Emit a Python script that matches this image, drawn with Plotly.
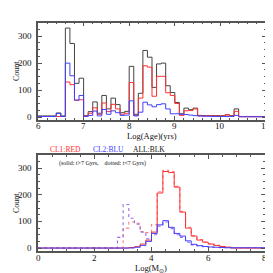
import plotly.graph_objects as go

# ---------------- data ----------------
age_edges_start = 6.0
age_bin = 0.1
age_all = [4, 4, 4, 4, 15, 4, 330, 273, 125, 144,
           5, 20, 56, 14, 80, 30, 70, 46, 16, 21,
           188, 10, 88, 247, 222, 110, 197, 200, 116, 91,
           54, 12, 33, 27, 33, 6, 5, 5, 5, 5,
           5, 8, 5, 30, 2, 2, 2, 2, 2, 2]
age_red = [2, 2, 2, 2, 2, 2, 130, 120, 62, 64,
           3, 14, 34, 10, 52, 20, 47, 30, 10, 14,
           128, 6, 70, 190, 185, 77, 151, 151, 90, 80,
           50, 6, 23, 24, 30, 4, 4, 4, 4, 4,
           4, 8, 4, 21, 1, 1, 1, 1, 1, 1]
age_blu = [2, 2, 2, 2, 13, 2, 200, 153, 63, 80,
           2, 6, 22, 4, 28, 10, 23, 16, 6, 7,
           60, 4, 18, 55, 45, 38, 46, 49, 30, 12,
           12, 10, 9, 7, 5, 4, 3, 3, 2, 2,
           2, 2, 2, 6, 1, 1, 1, 1, 1, 1]

mass_edges_start = 0.0
mass_bin = 0.2
mass_red_solid = [0]*16 + [2, 5, 15, 30, 60, 207, 288, 284, 229, 135,
                           75, 45, 30, 22, 15, 10, 6, 3] + [0]*6
mass_blu_solid = [0]*17 + [3, 10, 25, 55, 87, 103, 78, 55, 45,
                           27, 14, 9, 6, 4, 3, 2, 1] + [1]*6
mass_red_dot = [0]*15 + [75, 98, 93, 62, 58, 88, 212, 292, 288, 232,
                         138, 78, 47, 32, 23, 16, 10, 6, 3] + [0]*6
mass_blu_dot = [0]*14 + [40, 164, 112, 90, 60, 35, 50, 82, 98, 73,
                         50, 40, 22, 12, 8, 5, 3, 2, 1, 1] + [1]*6

age_ticks = [6, 7, 8, 9, 10, 11]
mass_ticks = [0, 2, 4, 6, 8]
count_ticks = [0, 100, 200, 300]


def steps(start, width, vals):
    xs = [start + width * i for i in range(len(vals) + 1)]
    ys = list(vals) + [vals[-1]]
    return xs, ys


fig = go.Figure()

def add(xa, ya, start, width, vals, color, dash="solid", w=1.0):
    xs, ys = steps(start, width, vals)
    fig.add_trace(go.Scatter(x=xs, y=ys, mode="lines", line_shape="hv",
                             line=dict(color=color, width=w, dash=dash),
                             xaxis=xa, yaxis=ya, showlegend=False,
                             hoverinfo="skip"))

add("x", "y", age_edges_start, age_bin, age_all, "#444444")
add("x", "y", age_edges_start, age_bin, age_red, "#ff3030")
add("x", "y", age_edges_start, age_bin, age_blu, "#4040ff")

add("x2", "y2", mass_edges_start, mass_bin, mass_red_dot, "#ff8080", "dot", 1.1)
add("x2", "y2", mass_edges_start, mass_bin, mass_blu_dot, "#9a6ae8", "dot", 1.1)
add("x2", "y2", mass_edges_start, mass_bin, mass_red_solid, "#ff3030")
add("x2", "y2", mass_edges_start, mass_bin, mass_blu_solid, "#4040ff")

font = "Liberation Serif"
tickfont = dict(family=font, size=9, color="#111")

ax_common = dict(showgrid=False, zeroline=False, ticks="inside", mirror="allticks",
                 showline=True, linecolor="#555", linewidth=1.5,
                 tickcolor="#555", ticklen=4, tickwidth=1, tickfont=tickfont,
                 showticklabels=False)

Y1B, Y1T = 111.7, 14.7
Y2B, Y2T = 242.7, 147
fig.update_layout(
    width=273, height=273,
    margin=dict(l=0, r=0, t=0, b=0),
    paper_bgcolor="white", plot_bgcolor="white",
    xaxis=dict(domain=[30/273, 258/273], range=[6, 11], tickvals=age_ticks, anchor="y",
               minor=dict(dtick=0.2, ticks="inside", ticklen=2, tickcolor="#555"),
               **ax_common),
    yaxis=dict(domain=[1-Y1B/273, 1-Y1T/273], range=[-10, 350], tickvals=count_ticks,
               anchor="x",
               minor=dict(dtick=25, ticks="inside", ticklen=2, tickcolor="#555"),
               **ax_common),
    xaxis2=dict(domain=[30/273, 257/273], range=[0, 8], tickvals=mass_ticks, anchor="y2",
                minor=dict(dtick=0.5, ticks="inside", ticklen=2, tickcolor="#555"),
                **ax_common),
    yaxis2=dict(domain=[1-Y2B/273, 1-Y2T/273], range=[-10, 350], tickvals=count_ticks,
                anchor="x2",
                minor=dict(dtick=25, ticks="inside", ticklen=2, tickcolor="#555"),
                **ax_common),
)

def ann(text, x, y, size, color="#111", angle=0):
    fig.add_annotation(text=text, x=x/273, y=1-y/273, xref="paper", yref="paper",
                       showarrow=False, textangle=angle,
                       font=dict(family=font, size=size, color=color),
                       xanchor="center", yanchor="middle")

# tick labels placed through the axes' own scales
for v in age_ticks:
    fig.add_annotation(text=str(v), x=min(v, 10.999), xref="x", y=1-118/273, yref="paper",
                       showarrow=False, font=tickfont, xanchor="center", yanchor="middle")
for v in mass_ticks:
    fig.add_annotation(text=str(v), x=min(v, 7.999), xref="x2", y=1-250/273, yref="paper",
                       showarrow=False, font=tickfont, xanchor="center", yanchor="middle")
for v in count_ticks:
    fig.add_annotation(text=str(v), y=v, yref="y", x=26/273, xref="paper",
                       showarrow=False, font=tickfont, xanchor="right", yanchor="middle")
    fig.add_annotation(text=str(v), y=v, yref="y2", x=26/273, xref="paper",
                       showarrow=False, font=tickfont, xanchor="right", yanchor="middle")

ann("Log(Age)(yrs)", 144, 128, 8.5)
ann("Count", 8, 63, 8, angle=-90)
ann("Count", 8, 195, 8, angle=-90)
ann("Log(M<sub>\u2299</sub>)", 143, 260, 8.5)
ann("CL1:RED", 57, 141, 7.5, color="#ff3030")
ann("CL2:BLU", 100, 141, 7.5, color="#4040ff")
ann("ALL:BLK", 141, 141, 7.5)
ann("(solid: t>7 Gyrs,    dotted: t<7 Gyrs)", 94, 155, 6)

fig.write_html("out.html")
